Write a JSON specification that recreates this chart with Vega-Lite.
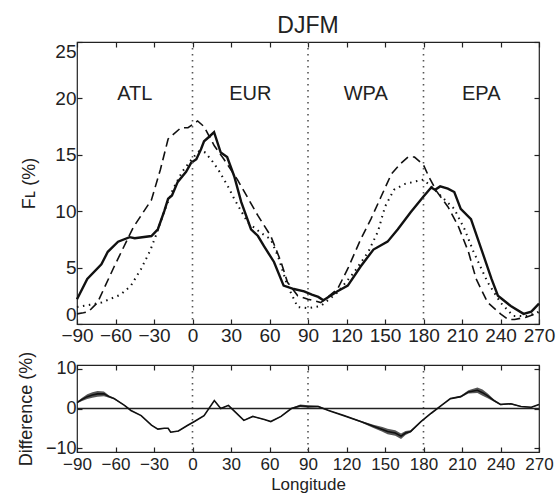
{
 "$schema": "https://vega.github.io/schema/vega-lite/v6.json",
 "background": "white",
 "padding": {"left": 16, "top": 14, "right": 2, "bottom": 0},
 "config": {
  "view": {"stroke": "#222", "strokeWidth": 1.2},
  "font": "Liberation Sans",
  "axis": {"domain": false, "grid": false, "tickSize": -5, "tickColor": "#222", "tickWidth": 1.2, "labelFontSize": 18, "labelColor": "#222", "titleFontSize": 18, "titleFontWeight": "normal", "titleColor": "#222", "labelPadding": 6, "labelFlush": false, "labelOverlap": false},
  "axisX": {"labelPadding": 7},
  "concat": {"spacing": 4}
 },
 "datasets": {
  "series": [
   {"s":"A","lon":-90,"v":2.2},{"s":"A","lon":-82,"v":4.0},{"s":"A","lon":-71,"v":5.3},{"s":"A","lon":-66,"v":6.4},{"s":"A","lon":-58,"v":7.3},{"s":"A","lon":-49,"v":7.7},{"s":"A","lon":-45,"v":7.6},{"s":"A","lon":-32,"v":7.8},{"s":"A","lon":-27,"v":8.4},{"s":"A","lon":-22,"v":10.0},{"s":"A","lon":-19,"v":11.1},{"s":"A","lon":-16,"v":11.4},{"s":"A","lon":-11.5,"v":12.6},{"s":"A","lon":-5,"v":13.5},{"s":"A","lon":-1,"v":14.3},{"s":"A","lon":3,"v":14.6},{"s":"A","lon":6.6,"v":15.5},{"s":"A","lon":9,"v":16.2},{"s":"A","lon":13,"v":16.6},{"s":"A","lon":16.8,"v":17.0},{"s":"A","lon":22,"v":15.2},{"s":"A","lon":27,"v":14.8},{"s":"A","lon":32.5,"v":13.1},{"s":"A","lon":38,"v":10.8},{"s":"A","lon":45.6,"v":8.4},{"s":"A","lon":51,"v":7.8},{"s":"A","lon":55.7,"v":6.9},{"s":"A","lon":63.5,"v":5.5},{"s":"A","lon":71,"v":3.4},{"s":"A","lon":79,"v":3.1},{"s":"A","lon":87,"v":2.9},{"s":"A","lon":93,"v":2.6},{"s":"A","lon":98,"v":2.4},{"s":"A","lon":102,"v":2.1},{"s":"A","lon":106,"v":2.4},{"s":"A","lon":113,"v":2.9},{"s":"A","lon":121,"v":3.4},{"s":"A","lon":131,"v":5.1},{"s":"A","lon":141,"v":6.6},{"s":"A","lon":152,"v":7.3},{"s":"A","lon":160,"v":8.4},{"s":"A","lon":170,"v":9.9},{"s":"A","lon":180,"v":11.3},{"s":"A","lon":186,"v":12.1},{"s":"A","lon":189,"v":11.9},{"s":"A","lon":193,"v":12.2},{"s":"A","lon":199,"v":12.0},{"s":"A","lon":204,"v":11.7},{"s":"A","lon":209,"v":10.2},{"s":"A","lon":217,"v":9.3},{"s":"A","lon":227,"v":6.0},{"s":"A","lon":233,"v":4.0},{"s":"A","lon":238,"v":2.5},{"s":"A","lon":248,"v":1.6},{"s":"A","lon":258,"v":0.9},{"s":"A","lon":264,"v":1.1},{"s":"A","lon":270,"v":1.8},
   {"s":"B","lon":-90,"v":0.9},{"s":"B","lon":-85,"v":1.0},{"s":"B","lon":-81,"v":1.1},{"s":"B","lon":-74,"v":1.9},{"s":"B","lon":-61,"v":5.1},{"s":"B","lon":-46,"v":8.6},{"s":"B","lon":-32,"v":11.0},{"s":"B","lon":-25,"v":13.7},{"s":"B","lon":-19,"v":16.4},{"s":"B","lon":-9,"v":17.4},{"s":"B","lon":-3.5,"v":17.4},{"s":"B","lon":4,"v":18.0},{"s":"B","lon":9,"v":17.5},{"s":"B","lon":17,"v":15.8},{"s":"B","lon":24.5,"v":14.6},{"s":"B","lon":35,"v":12.8},{"s":"B","lon":51,"v":9.6},{"s":"B","lon":61,"v":7.8},{"s":"B","lon":69,"v":5.5},{"s":"B","lon":74,"v":3.7},{"s":"B","lon":82,"v":2.5},{"s":"B","lon":90,"v":2.2},{"s":"B","lon":100,"v":1.9},{"s":"B","lon":113,"v":3.1},{"s":"B","lon":121,"v":4.9},{"s":"B","lon":131,"v":7.5},{"s":"B","lon":139,"v":9.3},{"s":"B","lon":147,"v":11.3},{"s":"B","lon":155,"v":13.3},{"s":"B","lon":162,"v":14.2},{"s":"B","lon":168,"v":14.8},{"s":"B","lon":173,"v":14.8},{"s":"B","lon":180,"v":14.1},{"s":"B","lon":184,"v":13.1},{"s":"B","lon":190,"v":11.8},{"s":"B","lon":199,"v":10.4},{"s":"B","lon":207,"v":8.7},{"s":"B","lon":215,"v":6.4},{"s":"B","lon":221,"v":4.0},{"s":"B","lon":230,"v":1.9},{"s":"B","lon":240,"v":0.9},{"s":"B","lon":246,"v":0.4},{"s":"B","lon":251,"v":0.4},{"s":"B","lon":260,"v":0.6},{"s":"B","lon":270,"v":1.0},
   {"s":"C","lon":-90,"v":1.5},{"s":"C","lon":-80,"v":1.7},{"s":"C","lon":-71,"v":1.9},{"s":"C","lon":-56,"v":2.6},{"s":"C","lon":-48,"v":3.4},{"s":"C","lon":-40,"v":4.9},{"s":"C","lon":-33,"v":6.5},{"s":"C","lon":-28,"v":8.0},{"s":"C","lon":-22,"v":10.0},{"s":"C","lon":-15,"v":12.0},{"s":"C","lon":-8,"v":13.5},{"s":"C","lon":0,"v":14.7},{"s":"C","lon":5,"v":15.3},{"s":"C","lon":10,"v":15.2},{"s":"C","lon":15,"v":14.5},{"s":"C","lon":20,"v":13.7},{"s":"C","lon":27.6,"v":12.2},{"s":"C","lon":32.5,"v":11.1},{"s":"C","lon":38,"v":10.0},{"s":"C","lon":43,"v":9.0},{"s":"C","lon":53,"v":8.1},{"s":"C","lon":61,"v":7.5},{"s":"C","lon":66.6,"v":6.0},{"s":"C","lon":74,"v":3.4},{"s":"C","lon":82,"v":1.5},{"s":"C","lon":90,"v":1.4},{"s":"C","lon":100,"v":1.6},{"s":"C","lon":113,"v":2.8},{"s":"C","lon":126,"v":4.6},{"s":"C","lon":137,"v":6.4},{"s":"C","lon":144.5,"v":8.2},{"s":"C","lon":150,"v":10.4},{"s":"C","lon":157,"v":11.9},{"s":"C","lon":165,"v":12.4},{"s":"C","lon":176,"v":12.7},{"s":"C","lon":180,"v":12.8},{"s":"C","lon":186,"v":12.2},{"s":"C","lon":194,"v":11.3},{"s":"C","lon":204,"v":10.2},{"s":"C","lon":212,"v":8.4},{"s":"C","lon":219,"v":6.4},{"s":"C","lon":230,"v":3.7},{"s":"C","lon":240,"v":1.9},{"s":"C","lon":250,"v":0.7},{"s":"C","lon":261,"v":0.7},{"s":"C","lon":270,"v":1.1}
  ],
  "diff": [
   {"lon":-90,"d":1.5,"lo":1.3,"hi":1.7},{"lon":-86,"d":2.3,"lo":1.9,"hi":2.7},{"lon":-82,"d":3.0,"lo":2.4,"hi":3.6},{"lon":-78,"d":3.4,"lo":2.7,"hi":4.1},{"lon":-74,"d":3.7,"lo":3.0,"hi":4.4},{"lon":-69,"d":3.7,"lo":3.1,"hi":4.3},{"lon":-65,"d":3.0,"lo":2.7,"hi":3.3},{"lon":-61,"d":2.5,"lo":2.3,"hi":2.7},{"lon":-53,"d":0.8,"lo":0.7,"hi":0.9},{"lon":-48,"d":-0.5,"lo":-0.6,"hi":-0.4},{"lon":-40,"d":-1.8,"lo":-1.9,"hi":-1.7},{"lon":-32,"d":-4.2,"lo":-4.3,"hi":-4.1},{"lon":-27,"d":-5.2,"lo":-5.3,"hi":-5.1},{"lon":-22,"d":-5.0,"lo":-5.1,"hi":-4.9},{"lon":-19,"d":-5.0,"lo":-5.1,"hi":-4.9},{"lon":-17,"d":-6.0,"lo":-6.1,"hi":-5.9},{"lon":-11,"d":-5.7,"lo":-5.8,"hi":-5.6},{"lon":-4,"d":-4.3,"lo":-4.4,"hi":-4.2},{"lon":1.5,"d":-3.3,"lo":-3.4,"hi":-3.2},{"lon":9,"d":-1.8,"lo":-1.9,"hi":-1.7},{"lon":17,"d":2.0,"lo":1.9,"hi":2.1},{"lon":22,"d":0.0,"lo":-0.1,"hi":0.1},{"lon":28,"d":0.8,"lo":0.7,"hi":0.9},{"lon":33,"d":-0.8,"lo":-0.9,"hi":-0.7},{"lon":40,"d":-3.0,"lo":-3.1,"hi":-2.9},{"lon":47,"d":-2.0,"lo":-2.1,"hi":-1.9},{"lon":56,"d":-2.8,"lo":-2.9,"hi":-2.7},{"lon":61,"d":-3.3,"lo":-3.4,"hi":-3.2},{"lon":69,"d":-2.0,"lo":-2.1,"hi":-1.9},{"lon":77,"d":0.0,"lo":-0.1,"hi":0.1},{"lon":84,"d":0.7,"lo":0.4,"hi":1.0},{"lon":90,"d":0.5,"lo":0.2,"hi":0.8},{"lon":98,"d":0.5,"lo":0.3,"hi":0.7},{"lon":106,"d":-0.5,"lo":-0.6,"hi":-0.4},{"lon":118,"d":-1.8,"lo":-1.9,"hi":-1.7},{"lon":131,"d":-3.3,"lo":-3.5,"hi":-3.1},{"lon":141,"d":-4.5,"lo":-4.9,"hi":-4.1},{"lon":148,"d":-5.3,"lo":-5.9,"hi":-4.7},{"lon":152,"d":-5.8,"lo":-6.5,"hi":-5.1},{"lon":158,"d":-6.2,"lo":-6.9,"hi":-5.5},{"lon":162.5,"d":-7.0,"lo":-7.7,"hi":-6.3},{"lon":166,"d":-6.2,"lo":-6.7,"hi":-5.7},{"lon":170,"d":-5.8,"lo":-6.1,"hi":-5.5},{"lon":178,"d":-3.3,"lo":-3.4,"hi":-3.2},{"lon":186,"d":-1.2,"lo":-1.3,"hi":-1.1},{"lon":194,"d":0.8,"lo":0.7,"hi":0.9},{"lon":201,"d":2.5,"lo":2.4,"hi":2.6},{"lon":209,"d":3.0,"lo":2.8,"hi":3.2},{"lon":215,"d":4.2,"lo":3.8,"hi":4.6},{"lon":222,"d":4.6,"lo":3.9,"hi":5.3},{"lon":226,"d":4.0,"lo":3.2,"hi":4.8},{"lon":230,"d":3.2,"lo":2.6,"hi":3.8},{"lon":235,"d":2.0,"lo":1.7,"hi":2.3},{"lon":240,"d":1.0,"lo":0.8,"hi":1.2},{"lon":248,"d":1.2,"lo":1.0,"hi":1.4},{"lon":256,"d":0.5,"lo":0.4,"hi":0.6},{"lon":264,"d":0.3,"lo":0.2,"hi":0.4},{"lon":270,"d":1.0,"lo":0.9,"hi":1.1}
  ],
  "bounds": [{"lon":0},{"lon":90},{"lon":180}],
  "regions": [{"lon":-45,"v":20.4,"t":"ATL"},{"lon":45,"v":20.4,"t":"EUR"},{"lon":135,"v":20.4,"t":"WPA"},{"lon":225,"v":20.4,"t":"EPA"}],
  "zero": [{"d":0}]
 },
 "vconcat": [
  {
   "width": 462, "height": 282,
   "title": {"text": "DJFM", "fontSize": 23, "fontWeight": "normal", "offset": 3, "color": "#222"},
   "resolve": {"axis": {"x": "independent", "y": "independent"}},
   "layer": [
    {"data": {"name": "series"}, "transform": [{"filter": "datum.s === 'A'"}],
     "mark": {"type": "line", "color": "#111", "strokeWidth": 2.4},
     "encoding": {
      "x": {"field": "lon", "type": "quantitative", "scale": {"domain": [-90, 270], "nice": false, "zero": false}, "axis": {"values": [-90,-60,-30,0,30,60,90,120,150,180,210,240,270], "title": null, "labelFontSize": 19}},
      "y": {"field": "v", "type": "quantitative", "scale": {"domain": [0, 25], "nice": false}, "axis": {"values": [0,5,10,15,20,25], "title": "F\u029f (%)", "titlePadding": 16, "labelFontSize": 19, "labelFlush": true}}
     }},
    {"data": {"name": "series"}, "transform": [{"filter": "datum.s === 'B'"}],
     "mark": {"type": "line", "color": "#111", "strokeWidth": 1.6, "strokeDash": [9, 5]},
     "encoding": {
      "x": {"field": "lon", "type": "quantitative", "axis": null},
      "y": {"field": "v", "type": "quantitative", "axis": null}
     }},
    {"data": {"name": "series"}, "transform": [{"filter": "datum.s === 'C'"}],
     "mark": {"type": "line", "color": "#111", "strokeWidth": 2, "strokeDash": [1.5, 4.5]},
     "encoding": {
      "x": {"field": "lon", "type": "quantitative", "axis": null},
      "y": {"field": "v", "type": "quantitative", "axis": null}
     }},
    {"data": {"name": "bounds"},
     "mark": {"type": "rule", "color": "#555", "strokeWidth": 1.6, "strokeDash": [1.5, 4.5]},
     "encoding": {
      "x": {"field": "lon", "type": "quantitative", "axis": {"orient": "top", "labels": false, "title": null, "values": [-90,-60,-30,0,30,60,90,120,150,180,210,240,270]}}
     }},
    {"data": {"name": "regions"},
     "mark": {"type": "text", "fontSize": 20, "color": "#222", "baseline": "middle"},
     "encoding": {
      "x": {"field": "lon", "type": "quantitative", "axis": null},
      "y": {"field": "v", "type": "quantitative", "axis": {"orient": "right", "labels": false, "title": null, "values": [0,5,10,15,20,25]}},
      "text": {"field": "t"}
     }}
   ]
  },
  {
   "width": 462, "height": 87,
   "resolve": {"axis": {"x": "independent", "y": "independent"}},
   "layer": [
    {"data": {"name": "diff"},
     "mark": {"type": "area", "color": "#555"},
     "encoding": {
      "x": {"field": "lon", "type": "quantitative", "scale": {"domain": [-90, 270], "nice": false, "zero": false}, "axis": {"values": [-90,-60,-30,0,30,60,90,120,150,180,210,240,270], "title": "Longitude", "titlePadding": 4, "labelFontSize": 17, "titleFontSize": 17, "labelPadding": 9}},
      "y": {"field": "lo", "type": "quantitative", "scale": {"domain": [-11, 11], "nice": false}, "axis": {"values": [-10,0,10], "title": "Difference (%)", "titlePadding": 10, "labelFlush": true}},
      "y2": {"field": "hi"}
     }},
    {"data": {"name": "bounds"},
     "mark": {"type": "rule", "color": "#555", "strokeWidth": 1.6, "strokeDash": [1.5, 4.5]},
     "encoding": {
      "x": {"field": "lon", "type": "quantitative", "axis": {"orient": "top", "labels": false, "title": null, "values": [-90,-60,-30,0,30,60,90,120,150,180,210,240,270]}}
     }},
    {"data": {"name": "zero"},
     "mark": {"type": "rule", "color": "#222", "strokeWidth": 1.5},
     "encoding": {
      "y": {"field": "d", "type": "quantitative", "axis": {"orient": "right", "labels": false, "title": null, "values": [-10,0,10]}}
     }},
    {"data": {"name": "diff"},
     "mark": {"type": "line", "color": "#111", "strokeWidth": 1.6},
     "encoding": {
      "x": {"field": "lon", "type": "quantitative", "axis": null},
      "y": {"field": "d", "type": "quantitative", "axis": null}
     }}
   ]
  }
 ]
}
